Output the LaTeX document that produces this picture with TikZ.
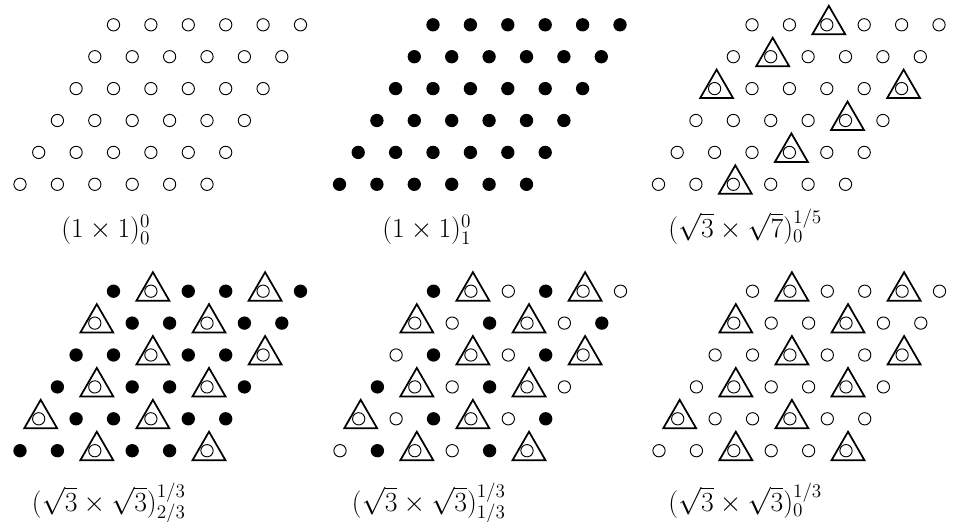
\documentclass[tikz,border=0pt]{standalone}
\usetikzlibrary{shapes.geometric}

\tikzset{
  opensite/.style={circle, draw, line width=0.7pt, inner sep=0pt, minimum size=9.2pt},
  fullsite/.style={circle, fill, inner sep=0pt, minimum size=10pt},
  trimark/.style={regular polygon, regular polygon sides=3, draw, line width=1.3pt, inner sep=0pt, minimum size=28.5pt},
  phase/.style={anchor=base west, inner sep=0pt, font=\fontsize{20.74}{25}\selectfont}
}

\begin{document}
\begin{tikzpicture}[x=0.75pt, y=-0.75pt]
    % Fix the page size
    \useasboundingbox (0,0) rectangle (955,521);

    % Draw the six lattices (rows counted from the top)
    \foreach \ox/\oy/\kind [count=\p] in {20/184.3/0, 339.5/184.3/1, 658.5/184.3/2,
                                          20/450.7/3, 340/450.7/4, 659/450.7/5} {
      \foreach \r in {0,...,5} {
        \foreach \c in {0,...,5} {
          \pgfmathsetmacro\sx{\ox + 37.4*\c + 18.7*(5-\r)}
          \pgfmathsetmacro\sy{\oy - 31.9*(5-\r)}
          \pgfmathtruncatemacro\s{mod(\c+\r,3)}
          \pgfmathtruncatemacro\full{(\kind==1) || (\kind==3 && \s!=1) || (\kind==4 && \s==0)}
          \pgfmathtruncatemacro\tri{(\kind==2 && mod(\c+\r,5)==2) || (\kind>2 && \s==1)}
          \ifnum\tri=1
            \node[trimark] (t\p-\r-\c) at (\sx+2,\sy) {};
          \fi
          \ifnum\full=1
            \node[fullsite] (s\p-\r-\c) at (\sx,\sy) {};
          \else
            \node[opensite] (s\p-\r-\c) at (\sx,\sy) {};
          \fi
        }
      }
    }

    % Phase labels
    \node[phase] (l1) at (61,237.5) {$(1\times1)^0_0$};
    \node[phase] (l2) at (382,237.5) {$(1\times1)^0_1$};
    \node[phase] (l3) at (668,237.5) {$(\sqrt{3}\times\sqrt{7})^{1/5}_0$};
    \node[phase] (l4) at (31.7,511.5) {$(\sqrt{3}\times\sqrt{3})^{1/3}_{2/3}$};
    \node[phase] (l5) at (351.7,511.5) {$(\sqrt{3}\times\sqrt{3})^{1/3}_{1/3}$};
    \node[phase] (l6) at (668,511.5) {$(\sqrt{3}\times\sqrt{3})^{1/3}_0$};
\end{tikzpicture}
\end{document}
